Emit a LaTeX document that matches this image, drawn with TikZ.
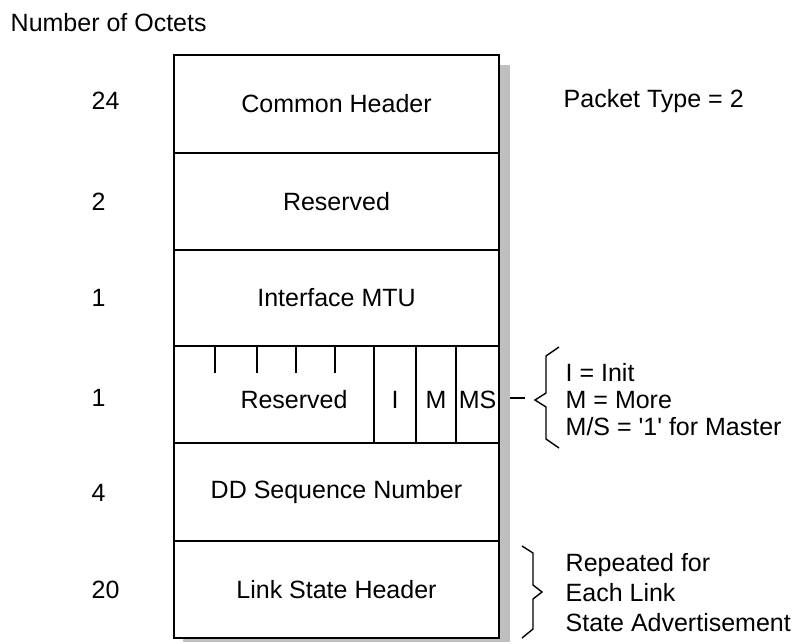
\documentclass[tikz,border=0pt]{standalone}
\usepackage{fontspec}
\setmainfont{Liberation Sans}
\usetikzlibrary{positioning}

\begin{document}
\begin{tikzpicture}[x=1pt, y=-1pt, line width=1.4pt,
    every node/.style={font=\fontsize{25}{29}\selectfont},
    field/.style={draw, minimum width=325pt, minimum height=97pt, inner sep=0pt},
    flagcell/.style={draw, minimum height=97pt, inner sep=0pt, text height=28pt},
    octets/.style={anchor=west, inner sep=0pt},
    note/.style={anchor=west, inner sep=0pt, align=left}]
    \useasboundingbox (0,0) rectangle (794,643);

    % Shadow behind the packet
    \fill[black!25] (183,65) rectangle (510,642);
    \fill[white] (174,55) rectangle (499,638);

    % Packet fields
    \node[field, minimum height=98pt] (hdr) at (336.5,104) {Common Header};
    \node[field] (rsv) at (336.5,201.5) {Reserved};
    \node[field] (mtu) at (336.5,298) {Interface MTU};
    \node[flagcell, minimum width=200pt] (rsvbits) at (274,394.5) {};
    \node[flagcell, minimum width=42pt] (ibit) at (395,394.5) {I};
    \node[flagcell, minimum width=40pt] (mbit) at (436,394.5) {M};
    \node[flagcell, minimum width=43pt] (msbit) at (477.5,394.5) {MS};
    \node[field] (ddseq) at (336.5,492) {DD Sequence Number};
    \node[field] (lsh) at (336.5,589.5) {Link State Header};
    \node (rsvtext) at (294,400) {Reserved};

    % Bit ticks
    \foreach \tx in {215,257,296,335}
        \draw (\tx,346) -- (\tx,373);

    % Octet counts
    \node[anchor=west, inner sep=0pt] (title) at (10,23) {Number of Octets};
    \node[octets] (n1) at (91,101) {24};
    \node[octets] (n2) at (91,202) {2};
    \node[octets] (n3) at (91,298) {1};
    \node[octets] (n4) at (91,398) {1};
    \node[octets] (n5) at (91,493) {4};
    \node[octets] (n6) at (91,590) {20};

    % Side notes
    \node[note] (ptype) at (563,101) {Packet Type = 2};
    \coordinate (dashstart) at (510,398);
    \coordinate (dashend) at (525,398);
    \draw (dashstart) -- (dashend);
    \draw (559,347) -- (546,356) -- (546,393) -- (535,400) -- (546,407) -- (546,439) -- (559,448);
    \node[note, font=\fontsize{25}{27}\selectfont] (flagnote) at (565,400) {I = Init\\M = More\\M/S = \textquotesingle1\textquotesingle{} for Master};
    \draw (522,546) -- (533,553) -- (533,585) -- (542,592) -- (533,599) -- (533,629) -- (522,638);
    \node[note, font=\fontsize{25}{30}\selectfont] (repnote) at (565,593) {Repeated for\\Each Link\\State Advertisement};
\end{tikzpicture}
\end{document}
